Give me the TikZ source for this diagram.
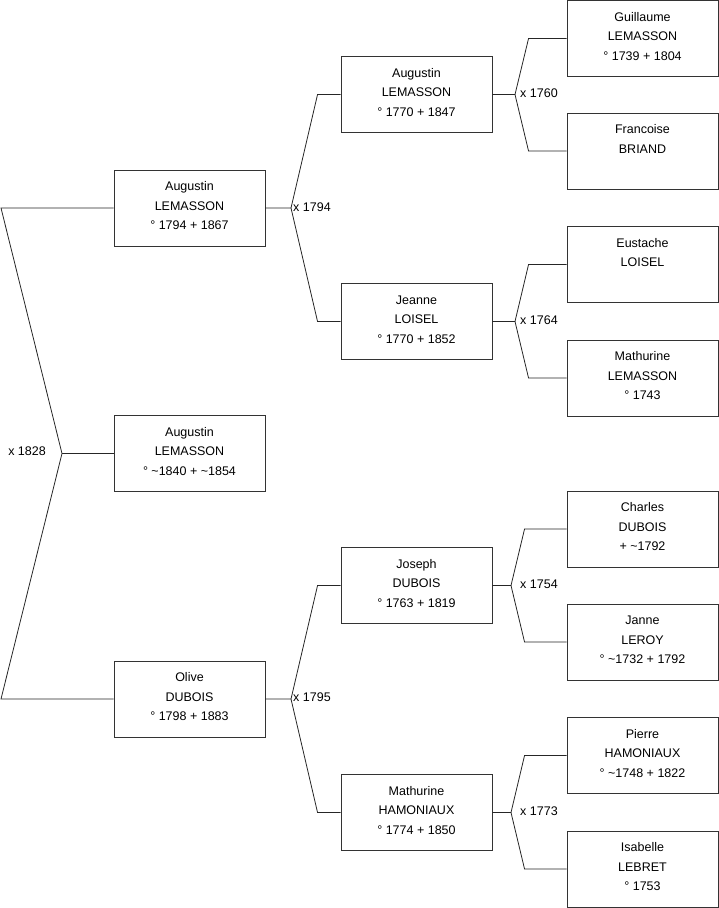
\documentclass[tikz,border=0pt]{standalone}
\usepackage{fontspec}
\setmainfont{Liberation Sans}
\usetikzlibrary{positioning}

\newcommand{\card}[1]{\parbox[t][68pt][t]{151pt}{\centering #1}}

\tikzset{
  person/.style={draw=black!80, line width=0.9pt, inner xsep=0pt, inner ysep=4pt,
    text height=16.5pt, text depth=51.5pt, font=\fontsize{12.5}{19.6}\selectfont},
  link/.style={draw=black!85, line width=0.8pt},
  wed/.style={anchor=west, inner sep=0pt, font=\fontsize{12.5}{14}\selectfont}
}

\begin{document}
\begin{tikzpicture}[x=1pt, y=-1pt]
      \useasboundingbox (0,0) rectangle (719,908);

      % generation 1
      \node[person] (f) at (189.5,208) {\card{Augustin\\LEMASSON\\° 1794 + 1867}};
      \node[person] (ego) at (189.5,453.5) {\card{Augustin\\LEMASSON\\° \textasciitilde1840 + \textasciitilde1854}};
      \node[person] (m) at (189.5,699) {\card{Olive\\DUBOIS\\° 1798 + 1883}};

      % generation 2
      \node[person] (ff) at (416.5,94.5) {\card{Augustin\\LEMASSON\\° 1770 + 1847}};
      \node[person] (fm) at (416.5,321.5) {\card{Jeanne\\LOISEL\\° 1770 + 1852}};
      \node[person] (mf) at (416.5,585.5) {\card{Joseph\\DUBOIS\\° 1763 + 1819}};
      \node[person] (mm) at (416.5,812.5) {\card{Mathurine\\HAMONIAUX\\° 1774 + 1850}};

      % generation 3
      \node[person] (fff) at (642.5,38.5) {\card{Guillaume\\LEMASSON\\° 1739 + 1804}};
      \node[person] (ffm) at (642.5,151) {\card{Francoise\\BRIAND}};
      \node[person] (fmf) at (642.5,264.5) {\card{Eustache\\LOISEL}};
      \node[person] (fmm) at (642.5,378) {\card{Mathurine\\LEMASSON\\° 1743}};
      \node[person] (mff) at (642.5,529) {\card{Charles\\DUBOIS\\+ \textasciitilde1792}};
      \node[person] (mfm) at (642.5,642) {\card{Janne\\LEROY\\° \textasciitilde1732 + 1792}};
      \node[person] (mmf) at (642.5,755.5) {\card{Pierre\\HAMONIAUX\\° \textasciitilde1748 + 1822}};
      \node[person] (mmm) at (642.5,869) {\card{Isabelle\\LEBRET\\° 1753}};

      % marriages
      \coordinate (x0) at (62,453.5);
      \coordinate (x1) at (291,208);
      \coordinate (x2) at (291,699);
      \coordinate (x3) at (515,94.5);
      \coordinate (x4) at (515,321.5);
      \coordinate (x5) at (511,585.5);
      \coordinate (x6) at (511,812.5);

      \path[link] (f.west) -- (1,208) -- (x0) -- (1,699) -- (m.west);
      \path[link] (x0) -- (ego.west);
      \node[anchor=east, inner sep=0pt, font=\fontsize{12.5}{14}\selectfont] (w0) at (46,451.5) {x 1828};

      \path[link] (f.east) -- (x1) -- ([xshift=-23pt]ff.west) -- (ff.west);
      \path[link] (x1) -- ([xshift=-23pt]fm.west) -- (fm.west);
      \node[wed] (w1) at (293,207) {x 1794};

      \path[link] (m.east) -- (x2) -- ([xshift=-23pt]mf.west) -- (mf.west);
      \path[link] (x2) -- ([xshift=-23pt]mm.west) -- (mm.west);
      \node[wed] (w2) at (293,697) {x 1795};

      \path[link] (ff.east) -- (x3) -- ([xshift=-38pt]fff.west) -- (fff.west);
      \path[link] (x3) -- ([xshift=-38pt]ffm.west) -- (ffm.west);
      \node[wed] (w3) at (520,93) {x 1760};

      \path[link] (fm.east) -- (x4) -- ([xshift=-38pt]fmf.west) -- (fmf.west);
      \path[link] (x4) -- ([xshift=-38pt]fmm.west) -- (fmm.west);
      \node[wed] (w4) at (520,320) {x 1764};

      \path[link] (mf.east) -- (x5) -- ([xshift=-42pt]mff.west) -- (mff.west);
      \path[link] (x5) -- ([xshift=-42pt]mfm.west) -- (mfm.west);
      \node[wed] (w5) at (520,584) {x 1754};

      \path[link] (mm.east) -- (x6) -- ([xshift=-42pt]mmf.west) -- (mmf.west);
      \path[link] (x6) -- ([xshift=-42pt]mmm.west) -- (mmm.west);
      \node[wed] (w6) at (520,811) {x 1773};
\end{tikzpicture}
\end{document}
